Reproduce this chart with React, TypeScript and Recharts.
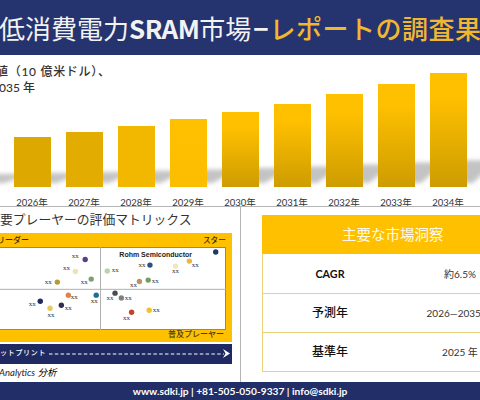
import React from "react";
import { BarChart, Bar, XAxis, YAxis, ScatterChart, Scatter, ReferenceLine } from "recharts";

const years = ["2025年", "2026年", "2027年", "2028年", "2029年", "2030年", "2031年", "2032年", "2033年", "2034年", "2035年"];
const visibleYearLabels = ["", "2026年", "2027年", "2028年", "2029年", "2030年", "2031年", "2032年", "2033年", "2034年", ""];
const marketValues = [4.5, 5.0, 5.5, 6.1, 6.8, 7.5, 8.3, 9.3, 10.3, 11.4, 12.6];
const barTop = ["#DBA800", "#DDA800", "#E2AD00", "#F2B800", "#FFC000", "#FFC000", "#FFC000", "#FFC000", "#FFC000", "#FFC000", "#FFC000"];
const barBottom = ["#DBA800", "#DDA800", "#E2AD00", "#F2B800", "#FBBD00", "#CD9C00", "#CD9C00", "#CD9C00", "#CD9C00", "#CD9C00", "#CD9C00"];

const xScores = [43.9, 40.0, 32.8, 46.3, 52.7, 37.2, 48.3, 26.0, 34.4, 29.9, 55.8, 95.9, 85.4, 79.9, 69.7, 69.0, 65.5, 58.3, 69.4, 62.4];
const yScores = [85, 70.5, 57.7, 61.3, 71, 42, 42, 34.7, 29.9, 26.2, 44.4, 94, 83, 77, 78.2, 60.1, 58.4, 38.7, 23.8, 21.4];
const dotColors = ["#5B3E87", "#EFE3B0", "#B59A30", "#7F9F6F", "#B8D4A8", "#E0804A", "#1F6E94", "#1E2B5E", "#2E2E50", "#E8C860", "#4A4A50", "#1F3864", "#E8B840", "#F0E6B8", "#2E5080", "#6F9F5F", "#C09060", "#808080", "#F0C030", "#C0442C"];
const dotLabels = ["xx", "xx", "xx", "xx", "xx", "xx", "xx", "xx", "xx", "xx", "xx", "Rohm Semiconductor", "xx", "xx", "xx", "xx", "xx", "xx", "xx", "xx"];
const labelDx = [-10, -9, -9, -7, 8, 6, -2, -8, 7, 1, -5, -60, 6, 0, -8, 7, -6, 7, 7, -5];
const labelDy = [-3, -3, 0, 3, -1, 2, 6, 3, 3, 7, 5, 2.4, 4, 5, 0, 1, 3, 0, 0, 6];

const marketTable = [
  { label: "CAGR", value: "約6.5%" },
  { label: "予測年", value: "2026—2035 年" },
  { label: "基準年", value: "2025 年" },
];

const matrixPoints = xScores.map((x, i) => ({ x, y: yScores[i], i }));
const barData = years.map((year, i) => ({ year, value: marketValues[i], i }));

const NAVY = "#25336E";
const GOLD = "#FFC000";
const CJK = "Lato, 'Noto Sans CJK JP', sans-serif";
const JP = "'Noto Sans CJK JP', sans-serif";

const abs = (left: number, top: number, extra: React.CSSProperties = {}): React.CSSProperties => ({
  position: "absolute",
  left,
  top,
  whiteSpace: "nowrap",
  fontFamily: CJK,
  ...extra,
});

function ShadowBar(props: any) {
  const { x, y, width, height, index } = props;
  const base = y + height - 4;
  const rise = height * 0.2;
  const shear = 30;
  const pts = [
    [x, base],
    [x + width + 6, base],
    [x + width + shear, base - rise],
    [x + shear, base - rise],
  ]
    .map((p) => p.join(","))
    .join(" ");
  return (
    <g>
      <polygon points={pts} fill="#9C9C9C" opacity={0.6} filter="url(#barShadow)" />
      <rect x={x} y={y} width={width} height={height} fill={`url(#barFill${index})`} />
    </g>
  );
}

function MatrixDot(props: any) {
  const { cx, cy, payload } = props;
  const i = payload.i;
  const isName = dotLabels[i].length > 2;
  return (
    <g>
      <circle cx={cx} cy={cy} r={2.7} fill={dotColors[i]} />
      <text
        x={cx + labelDx[i]}
        y={cy + labelDy[i]}
        textAnchor="middle"
        dominantBaseline="central"
        fontFamily={isName ? "'Liberation Sans', sans-serif" : "'Liberation Serif', serif"}
        fontWeight={isName ? 700 : 400}
        fontSize={7}
        fill={isName ? "#222" : "#333"}
      >
        {dotLabels[i]}
      </text>
    </g>
  );
}

export default function App() {
  return (
    <div style={{ position: "fixed", left: 0, top: 0, width: 480, height: 400, overflow: "hidden", background: "#fff" }}>
      {/* title band */}
      <div style={{ position: "absolute", left: 0, top: 0, width: 480, height: 55, background: NAVY }} />
      <div style={abs(-1, 9, { fontSize: 26, lineHeight: "38px", fontFamily: JP, color: "#F2F2F2" })}>
        低消費電力<span style={{ fontWeight: 700, letterSpacing: -0.6 }}>SRAM</span>市場<span style={{ fontWeight: 700, marginLeft: 2 }}>−</span>
        <span style={{ color: "#F0B72F", fontWeight: 500, letterSpacing: 0.5, marginLeft: 1 }}>レポートの調査果</span>
      </div>

      {/* subtitle */}
      <div style={abs(-4, 64, { fontSize: 12, lineHeight: "16px", color: "#333", fontWeight: 500, fontFamily: CJK, letterSpacing: 0.7 })}>
        値（10 億米ドル）、
      </div>
      <div style={abs(-1, 80, { fontSize: 12, lineHeight: "16px", color: "#333", fontWeight: 500, fontFamily: CJK })}>035 年</div>

      {/* bar chart */}
      <div style={{ position: "absolute", left: -46, top: 57 }}>
        <BarChart width={572} height={160} data={barData} margin={{ top: 0, right: 0, bottom: 0, left: 0 }} barSize={37}>
          <defs>
            <filter id="barShadow" x="-30%" y="-60%" width="160%" height="220%">
              <feGaussianBlur stdDeviation="2.2" />
            </filter>
            {years.map((_, i) => (
              <linearGradient key={i} id={`barFill${i}`} x1="0" y1="0" x2="0" y2="1">
                <stop offset="0.2" stopColor={barTop[i]} />
                <stop offset="1" stopColor={barBottom[i]} />
              </linearGradient>
            ))}
          </defs>
          <XAxis
            dataKey="year"
            interval={0}
            height={30}
            tickLine={false}
            axisLine={false}
            tickMargin={6}
            tickFormatter={(_: string, i: number) => visibleYearLabels[i]}
            tick={{ fontSize: 9.5, fill: "#333", fontFamily: CJK }}
          />
          <YAxis hide domain={[0, 13]} />
          <Bar dataKey="value" isAnimationActive={false} shape={<ShadowBar />} />
        </BarChart>
      </div>

      {/* panel rules */}
      <div style={{ position: "absolute", left: 0, top: 206, width: 480, height: 1, background: "#B5B5B5" }} />
      <div style={{ position: "absolute", left: 240, top: 206, width: 1, height: 176, background: "#B5B5B5" }} />

      {/* matrix */}
      <div style={abs(0, 210, { fontSize: 12.8, lineHeight: "18px", color: "#333", fontFamily: JP })}>
        要プレーヤーの評価マトリックス
      </div>
      <div style={{ position: "absolute", left: 0, top: 233, width: 232, height: 109, background: GOLD }} />
      <div style={abs(-3, 233, { fontSize: 8, lineHeight: "14px", color: "#3A2E00", fontWeight: 500, fontFamily: JP })}>リーダー</div>
      <div style={abs(203, 233, { fontSize: 7.6, lineHeight: "14px", color: "#3A2E00", fontWeight: 500, fontFamily: JP })}>スター</div>
      <div style={{ position: "absolute", left: -25, top: 247, width: 251, height: 83, boxSizing: "border-box", background: "#fff", border: "1px solid #A68B2E" }} />
      <div style={{ position: "absolute", left: -25, top: 247 }}>
        <ScatterChart width={251} height={83} margin={{ top: 0, right: 0, bottom: 0, left: 0 }}>
          <XAxis type="number" dataKey="x" domain={[0, 100]} hide />
          <YAxis type="number" dataKey="y" domain={[0, 100]} hide />
          <ReferenceLine x={50} stroke="#B0B0B0" strokeWidth={1} />
          <ReferenceLine y={49} stroke="#B0B0B0" strokeWidth={1} />
          <Scatter data={matrixPoints} isAnimationActive={false} shape={<MatrixDot />} />
        </ScatterChart>
      </div>
      <div style={abs(168, 327, { fontSize: 8, lineHeight: "14px", color: "#4A3C10", fontWeight: 500, fontFamily: JP })}>普及プレーヤー</div>

      <div style={{ position: "absolute", left: 0, top: 344, width: 232, height: 20, background: "#1F2A63" }} />
      <div style={abs(0, 345, { fontSize: 7, lineHeight: "14px", color: "#fff", letterSpacing: 0.7, fontWeight: 500, fontFamily: JP })}>ットプリント</div>
      <svg style={{ position: "absolute", left: 0, top: 344 }} width={232} height={20}>
        <line x1={49} y1={10} x2={224} y2={10} stroke="#fff" strokeWidth={1} strokeDasharray="3.5 2.3" />
        <path d="M223 5 L230 9.5 L223 14 L225.5 9.5 Z" fill="#fff" />
      </svg>
      <div style={abs(-1, 366, { fontSize: 9.5, lineHeight: "14px", fontStyle: "italic", color: "#222" })}>
        Analytics <span style={{ color: "#000" }}>分析</span>
      </div>

      {/* key insights table */}
      <div style={{ position: "absolute", left: 262, top: 215, width: 218, height: 39, background: GOLD }} />
      <div style={abs(342, 224, { fontSize: 14.5, lineHeight: "20px", color: "#FFFAEA", fontFamily: JP })}>主要な市場洞察</div>
      <div style={{ position: "absolute", left: 262, top: 254, width: 1, height: 118, background: "#EAD27A" }} />
      {marketTable.map((row, i) => (
        <React.Fragment key={row.label}>
          <div style={{ position: "absolute", left: 262, top: 293 + i * 39, width: 218, height: 1, background: "#EAD27A" }} />
          <div style={abs(280, 264 + i * 39, { width: 100, textAlign: "center", fontSize: i === 0 ? 10.8 : 12, lineHeight: "20px", color: "#111", fontWeight: i === 0 ? 700 : 500 })}>
            {row.label}
          </div>
          <div style={abs(410, 264 + i * 39, { width: 100, textAlign: "center", fontSize: 10, lineHeight: "20px", color: "#333" })}>{row.value}</div>
        </React.Fragment>
      ))}

      {/* footer */}
      <div style={{ position: "absolute", left: 0, top: 382, width: 480, height: 18, background: "#212E67" }} />
      <div style={{ ...abs(0, 382, { width: 480, textAlign: "center", fontSize: 10.2, lineHeight: "18px", color: "#fff", fontWeight: 700, fontFamily: "Lato, sans-serif" }) }}>
        www.sdki.jp | +81-505-050-9337 | info@sdki.jp
      </div>
    </div>
  );
}
